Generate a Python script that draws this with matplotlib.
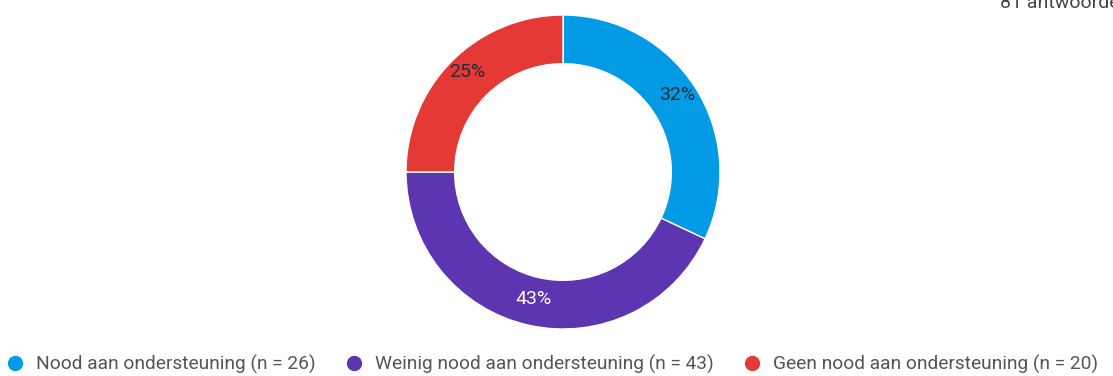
import matplotlib
matplotlib.use("Agg")
from matplotlib import pyplot as plt
from matplotlib.lines import Line2D

# slice shares as shown in the chart (percent)
shares = [32, 43, 25]
labels = ["Nood aan ondersteuning (n = 26)",
          "Weinig nood aan ondersteuning (n = 43)",
          "Geen nood aan ondersteuning (n = 20)"]
colors = ["#039be5", "#5e35b1", "#e53935"]
label_colors = ["#1f2d3d", "white", "#1f2d3d"]
total_text = "81 antwoorden"

plt.rcParams['font.family'] = ['Roboto', 'DejaVu Sans']

W, H = 1113, 376
fig = plt.figure(figsize=(W / 100, H / 100), dpi=100)

# donut: centre (563, 172) px, radius 157 px
cx, cy, r = 563, 172, 157
ax = fig.add_axes([(cx - r) / W, (H - cy - r) / H, 2 * r / W, 2 * r / H])
wedges, texts, autotexts = ax.pie(
    shares, colors=colors, startangle=90, counterclock=False, radius=1,
    autopct=lambda p: f"{p:.0f}%", pctdistance=0.86,
    wedgeprops=dict(width=0.31, edgecolor="white", linewidth=1),
    textprops=dict(fontsize=14))
for t, c in zip(autotexts, label_colors):
    t.set_color(c)
    x, y = t.get_position()
    t.set_position((x, y + 0.03))
ax.set_xlim(-1, 1)
ax.set_ylim(-1, 1)
ax.set_aspect("equal")
ax.axis("off")

handles = [Line2D([], [], marker="o", linestyle="none", markersize=10,
                  markerfacecolor=c, markeredgecolor=c) for c in colors]
fig.legend(handles, labels, loc="center", bbox_to_anchor=(0.496, 1 - 364 / H),
           ncol=3, frameon=False, fontsize=13.8, labelcolor="#555555",
           handletextpad=0.6, columnspacing=1.5, handlelength=1.0,
           borderaxespad=0, borderpad=0)

fig.text(1000 / W, 1 - 3 / H, total_text, fontsize=14, color="#444444",
         ha="left", va="center")

fig.savefig("out.png", dpi=100)
